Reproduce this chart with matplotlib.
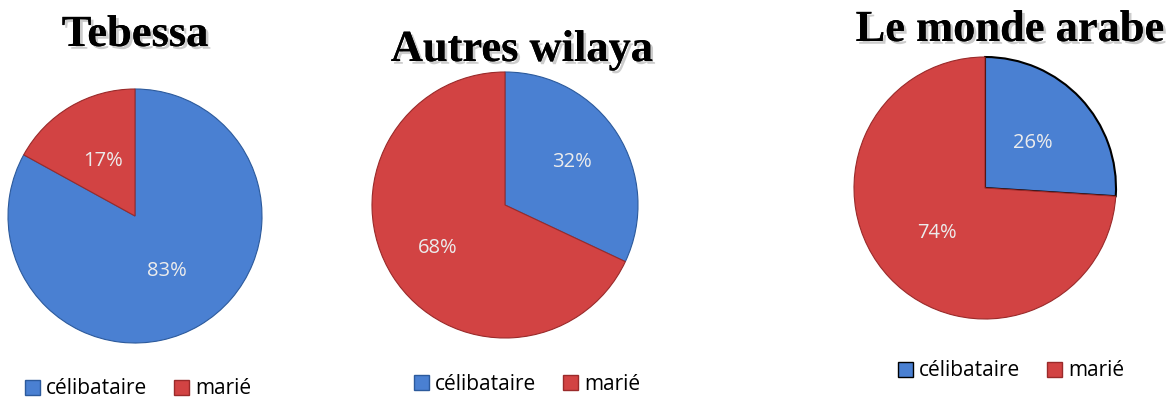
import matplotlib.pyplot as plt
import matplotlib.patheffects as pe
from matplotlib.patches import Patch

W, H = 1174, 401

titles = ["Tebessa", "Autres wilaya", "Le monde arabe"]
categories = ["célibataire", "marié"]
celibataire = [83, 32, 26]
marie = [17, 68, 74]

colors = ["#4a80d2", "#d24343"]
text_color = "#ececec"

# pixel layout: centre x, centre y, radius, title pos, legend pos
centres = [(135, 216, 127), (505, 205, 133), (985, 188, 131)]
title_pos = [(135, 35), (522, 50), (1010, 30)]
legend_pos = [(138, 389), (527, 384), (1011, 371)]
pct_dist = [0.5, 0.6, 0.5]

fig = plt.figure(figsize=(W / 100, H / 100), dpi=100)

for i in range(3):
    cx, cy, r = centres[i]
    ax = fig.add_axes([(cx - r) / W, 1 - (cy + r) / H, 2 * r / W, 2 * r / H])
    vals = [celibataire[i], marie[i]]
    wedges, texts, autotexts = ax.pie(
        vals, colors=colors, startangle=90, counterclock=False,
        autopct="%d%%", pctdistance=pct_dist[i],
        wedgeprops=dict(linewidth=0.8, edgecolor="#9a2a2a"),
        textprops=dict(color=text_color, fontsize=14.5, family="Open Sans"))
    wedges[0].set_edgecolor("#2c5a9c")
    if i == 2:
        wedges[0].set_edgecolor("black")
        wedges[0].set_linewidth(1.5)
    ax.set_xlim(-1, 1)
    ax.set_ylim(-1, 1)
    ax.set_aspect("equal")
    ax.axis("off")

    tx, ty = title_pos[i]
    fig.text(tx / W, 1 - ty / H, titles[i], ha="center", va="center",
             family="Liberation Serif", fontweight="bold", fontsize=32,
             path_effects=[pe.withSimplePatchShadow(offset=(2, -2), alpha=0.2),
                           pe.Normal()])

    lx, ly = legend_pos[i]
    handles = [Patch(facecolor=colors[0], edgecolor="black" if i == 2 else "#2c5a9c"),
               Patch(facecolor=colors[1], edgecolor="#9a2a2a")]
    fig.legend(handles, categories, loc="center", ncol=2,
               bbox_to_anchor=(lx / W, 1 - ly / H), frameon=False,
               prop=dict(family="Open Sans", size=15),
               handlelength=0.7, handleheight=0.7, handletextpad=0.3,
               columnspacing=1.3)

fig.savefig("out.png", dpi=100)
